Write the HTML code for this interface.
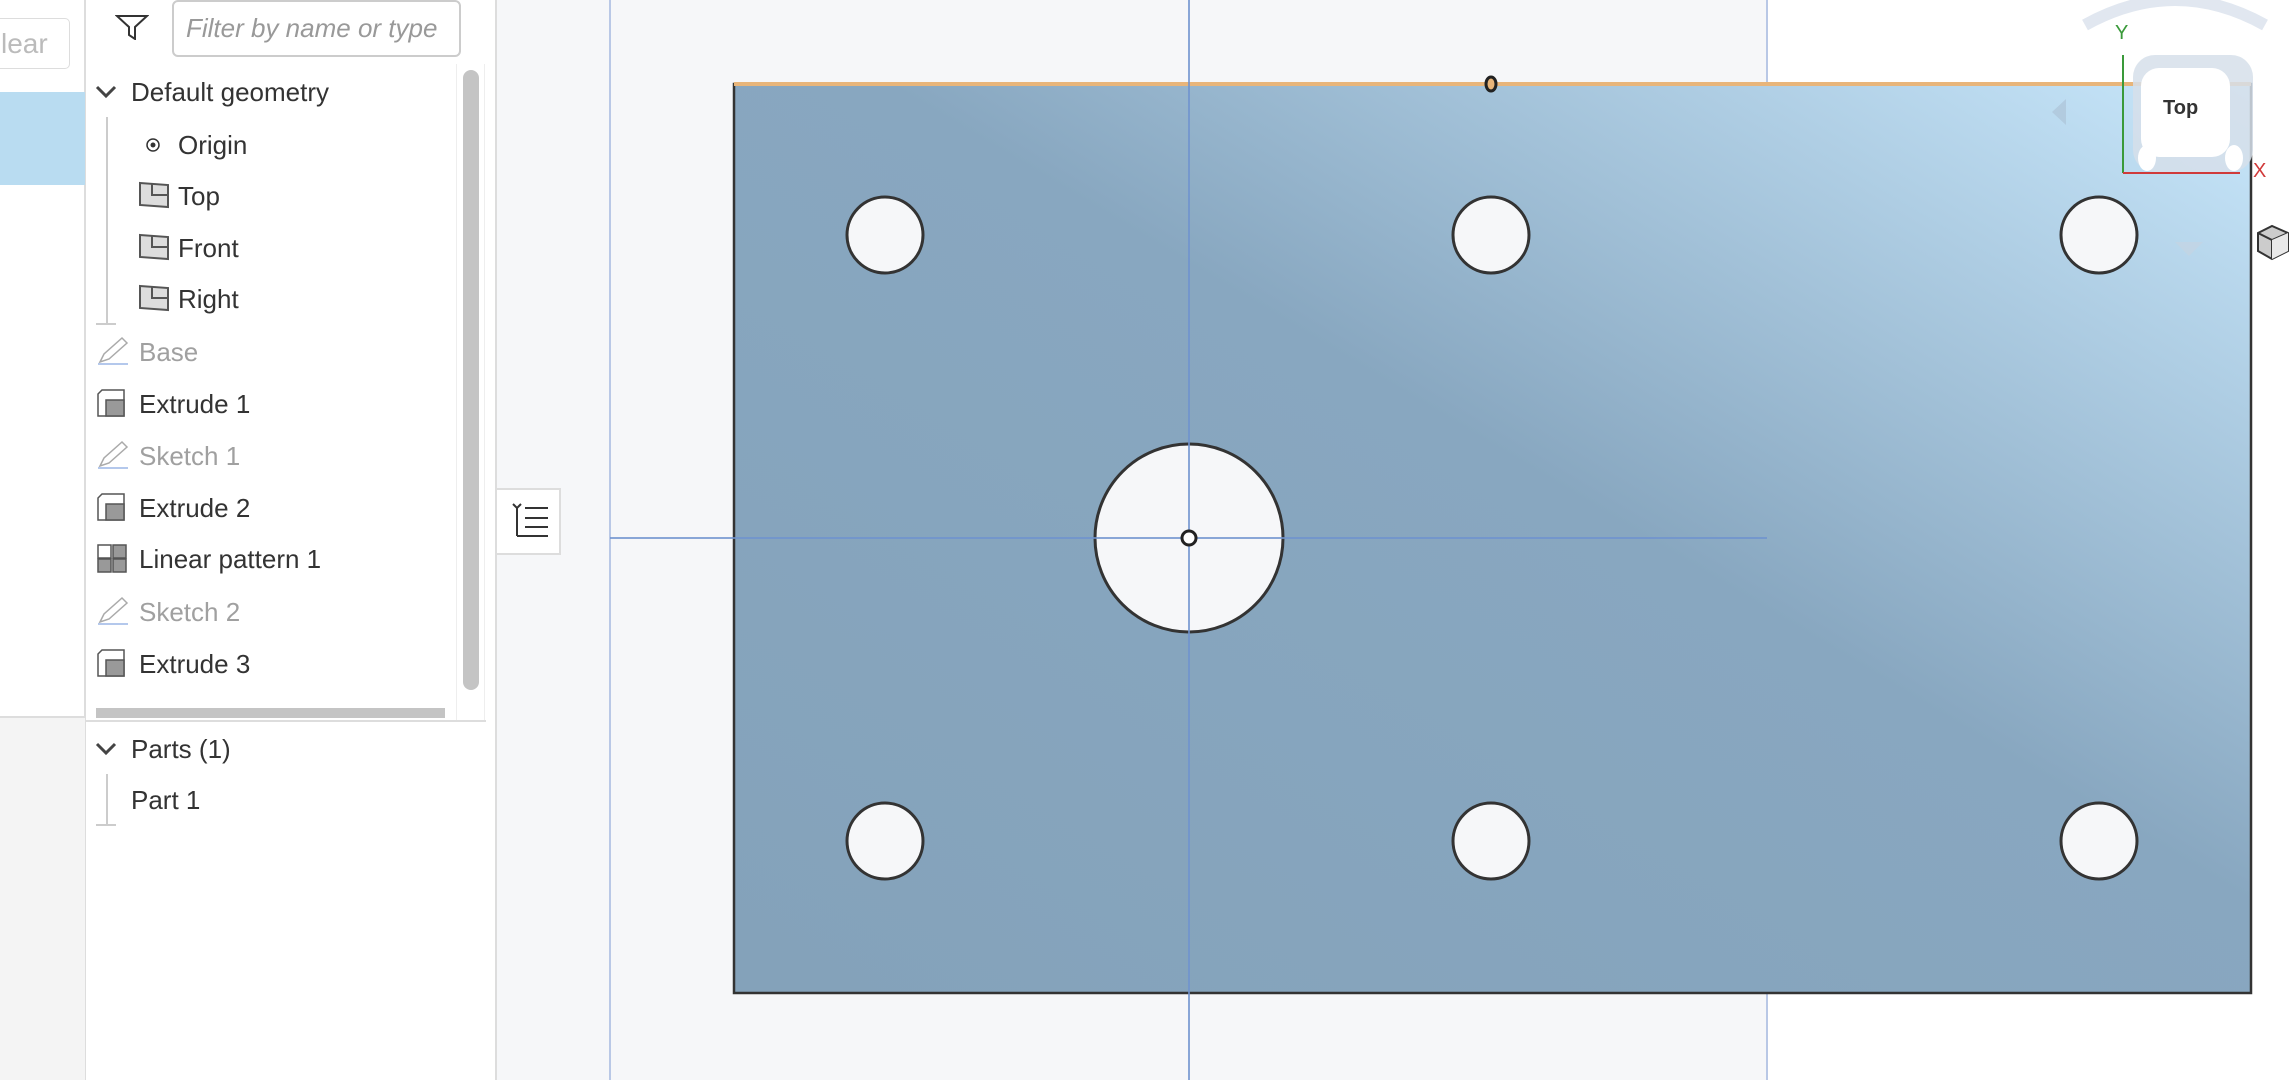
<!DOCTYPE html>
<html><head><meta charset="utf-8"><style>
*{margin:0;padding:0;box-sizing:border-box}
body{width:2290px;height:1080px;overflow:hidden;background:#f6f7f9;font-family:"Liberation Sans",sans-serif;position:relative}
.abs{position:absolute}
.item{position:absolute;font-size:26px;color:#333;white-space:nowrap;line-height:32px}
.dim{color:#a0a0a0}
.ic{position:absolute}
</style></head><body>
<div class="abs" style="left:0;top:0;width:86px;height:1080px;background:#fff;border-right:2px solid #ddd"></div>
<div class="abs" style="left:-12px;top:18px;width:82px;height:51px;border:1px solid #ddd;border-radius:5px;color:#bbb;font-size:28px;line-height:49px;padding-left:12px;background:#fff">lear</div>
<div class="abs" style="left:0;top:92px;width:85px;height:93px;background:#b9dcf1"></div>
<div class="abs" style="left:0;top:716px;width:85px;height:364px;background:#f4f4f4;border-top:2px solid #ddd"></div>

<div class="abs" style="left:86px;top:0;width:411px;height:1080px;background:#fff;border-right:2px solid #ddd"></div>
<svg class="abs" style="left:115px;top:14px" width="34" height="26" viewBox="0 0 34 26"><path d="M2 2 H32 L20 13 V25 L14 21 V13 Z" fill="none" stroke="#333" stroke-width="2"/></svg>
<div class="abs" style="left:172px;top:0;width:289px;height:57px;border:2px solid #ccc;border-radius:6px;font-style:italic;color:#999;font-size:26px;line-height:52px;padding-left:12px">Filter by name or type</div>
<div class="abs" style="left:456px;top:64px;width:29px;height:656px;border-left:1px solid #eee;border-right:1px solid #eee"></div>
<div class="abs" style="left:463px;top:70px;width:16px;height:620px;background:#c4c4c4;border-radius:8px"></div>
<div class="abs" style="left:96px;top:708px;width:349px;height:10px;background:#c4c4c4"></div>
<div class="abs" style="left:86px;top:720px;width:400px;height:2px;background:#ddd"></div>
<div class="abs" style="left:106px;top:117px;width:2px;height:207px;background:#ccc"></div>
<div class="abs" style="left:96px;top:323px;width:20px;height:2px;background:#ccc"></div>
<div class="abs" style="left:106px;top:774px;width:2px;height:51px;background:#ccc"></div>
<div class="abs" style="left:96px;top:824px;width:20px;height:2px;background:#ccc"></div>

<svg class="ic" style="left:94px;top:84px" width="24" height="16"><path d="M3 3 L12 12 L21 3" fill="none" stroke="#444" stroke-width="3"/></svg>
<div class="item" style="left:131px;top:76px">Default geometry</div>
<svg class="ic" style="left:145px;top:137px" width="16" height="16"><circle cx="8" cy="8" r="6" fill="none" stroke="#333" stroke-width="1.5"/><circle cx="8" cy="8" r="2.5" fill="#333"/></svg>
<div class="item" style="left:178px;top:129px">Origin</div>
<svg class="ic" style="left:138px;top:181px" width="32" height="28"><path d="M2 2 L30 4 V26 L2 24 Z" fill="#ddd" stroke="#555" stroke-width="2"/><path d="M14 2 V14 H30" fill="none" stroke="#555" stroke-width="2"/></svg>
<div class="item" style="left:178px;top:180px">Top</div>
<svg class="ic" style="left:138px;top:233px" width="32" height="28"><path d="M2 2 L30 4 V26 L2 24 Z" fill="#ddd" stroke="#555" stroke-width="2"/><path d="M14 2 V14 H30" fill="none" stroke="#555" stroke-width="2"/></svg>
<div class="item" style="left:178px;top:232px">Front</div>
<svg class="ic" style="left:138px;top:284px" width="32" height="28"><path d="M2 2 L30 4 V26 L2 24 Z" fill="#ddd" stroke="#555" stroke-width="2"/><path d="M14 2 V14 H30" fill="none" stroke="#555" stroke-width="2"/></svg>
<div class="item" style="left:178px;top:283px">Right</div>

<svg class="ic" style="left:96px;top:336px" width="34" height="30"><path d="M4 26 L8 18 L26 2 L31 7 L13 23 Z" fill="none" stroke="#aaa" stroke-width="1.5"/><path d="M2 28 H32" stroke="#9bb6e6" stroke-width="1.5"/></svg>
<div class="item dim" style="left:139px;top:336px">Base</div>
<svg class="ic" style="left:96px;top:388px" width="32" height="30"><path d="M2 6 L6 2 H28 V28 H2 Z" fill="#fff" stroke="#555" stroke-width="1.5"/><rect x="10" y="12" width="18" height="16" fill="#999" stroke="#555" stroke-width="1.5"/></svg>
<div class="item" style="left:139px;top:388px">Extrude 1</div>
<svg class="ic" style="left:96px;top:440px" width="34" height="30"><path d="M4 26 L8 18 L26 2 L31 7 L13 23 Z" fill="none" stroke="#aaa" stroke-width="1.5"/><path d="M2 28 H32" stroke="#9bb6e6" stroke-width="1.5"/></svg>
<div class="item dim" style="left:139px;top:440px">Sketch 1</div>
<svg class="ic" style="left:96px;top:492px" width="32" height="30"><path d="M2 6 L6 2 H28 V28 H2 Z" fill="#fff" stroke="#555" stroke-width="1.5"/><rect x="10" y="12" width="18" height="16" fill="#999" stroke="#555" stroke-width="1.5"/></svg>
<div class="item" style="left:139px;top:492px">Extrude 2</div>
<svg class="ic" style="left:96px;top:543px" width="32" height="30"><rect x="2" y="2" width="13" height="13" fill="#fff" stroke="#555" stroke-width="1.5"/><rect x="17" y="2" width="13" height="13" fill="#999" stroke="#555" stroke-width="1.5"/><rect x="2" y="16" width="13" height="13" fill="#999" stroke="#555" stroke-width="1.5"/><rect x="17" y="16" width="13" height="13" fill="#999" stroke="#555" stroke-width="1.5"/></svg>
<div class="item" style="left:139px;top:543px">Linear pattern 1</div>
<svg class="ic" style="left:96px;top:596px" width="34" height="30"><path d="M4 26 L8 18 L26 2 L31 7 L13 23 Z" fill="none" stroke="#aaa" stroke-width="1.5"/><path d="M2 28 H32" stroke="#9bb6e6" stroke-width="1.5"/></svg>
<div class="item dim" style="left:139px;top:596px">Sketch 2</div>
<svg class="ic" style="left:96px;top:648px" width="32" height="30"><path d="M2 6 L6 2 H28 V28 H2 Z" fill="#fff" stroke="#555" stroke-width="1.5"/><rect x="10" y="12" width="18" height="16" fill="#999" stroke="#555" stroke-width="1.5"/></svg>
<div class="item" style="left:139px;top:648px">Extrude 3</div>
<svg class="ic" style="left:94px;top:741px" width="24" height="16"><path d="M3 3 L12 12 L21 3" fill="none" stroke="#444" stroke-width="3"/></svg>
<div class="item" style="left:131px;top:733px">Parts (1)</div>
<div class="item" style="left:131px;top:784px">Part 1</div>

<div class="abs" style="left:497px;top:488px;width:64px;height:67px;background:#fff;border:2px solid #ddd;border-left:none"></div>
<svg class="abs" style="left:510px;top:500px" width="40" height="40"><path d="M3 4 L7 8 L11 4 M7 8 V36 M15 8 H38 M15 18 H38 M15 27 H38 M7 36 H38" fill="none" stroke="#333" stroke-width="2"/></svg>

<svg class="abs" id="view" style="left:499px;top:0" width="1791" height="1080"></svg>
<script>
const holeX=[885,1491,2099];
const holeY=[235,841];
const smallR=38;
const bigHole={x:1189,y:538,r:94};
const plate={x0:734,y0:84,x1:2251,y1:993};
const ox=499;
const NS="http://www.w3.org/2000/svg";
const v=document.getElementById('view');
function mk(t,a,name){const e=document.createElementNS(NS,t);for(const k in a)e.setAttribute(k,a[k]);


v.appendChild(e);return e;}
v.innerHTML='<defs><linearGradient id="g" x1="0" y1="1" x2="1" y2="0"><stop offset="0" stop-color="#84a2ba"/><stop offset="0.55" stop-color="#88a7c0"/><stop offset="1" stop-color="#c8e7fb"/></linearGradient></defs>';
mk('rect',{x:1767-ox,y:0,width:2290-1767,height:1080,fill:'#fff'},'white-area');
mk('line',{x1:610-ox,y1:0,x2:610-ox,y2:1080,stroke:'#b9c8e6','stroke-width':2},'sketch-boundary-left');
mk('line',{x1:1767-ox,y1:0,x2:1767-ox,y2:1080,stroke:'#b9c8e6','stroke-width':2},'sketch-boundary-right');
mk('rect',{x:plate.x0-ox,y:plate.y0,width:plate.x1-plate.x0,height:plate.y1-plate.y0,fill:'url(#g)',stroke:'#333','stroke-width':2.5},'plate');
mk('line',{x1:plate.x0-ox,y1:plate.y0,x2:plate.x1-ox,y2:plate.y0,stroke:'#e8b57a','stroke-width':4},'top-edge-highlight');
holeY.forEach((y,j)=>holeX.forEach((x,i)=>{mk('circle',{cx:x-ox,cy:y,r:smallR,fill:'#f6f7f9',stroke:'#333','stroke-width':3},'small-hole');}));
mk('circle',{cx:bigHole.x-ox,cy:bigHole.y,r:bigHole.r,fill:'#f6f7f9',stroke:'#333','stroke-width':3},'center-hole');
mk('line',{x1:bigHole.x-ox,y1:0,x2:bigHole.x-ox,y2:1080,stroke:'#6f93cf','stroke-width':2,opacity:0.8},'vertical-axis-line');
mk('line',{x1:610-ox,y1:bigHole.y,x2:1767-ox,y2:bigHole.y,stroke:'#6f93cf','stroke-width':2,opacity:0.8},'horizontal-axis-line');
mk('circle',{cx:bigHole.x-ox,cy:bigHole.y,r:7,fill:'#fff',stroke:'#222','stroke-width':3},'origin-point');
mk('ellipse',{cx:1491-ox,cy:plate.y0,rx:5,ry:7,fill:'#e8b57a',stroke:'#222','stroke-width':3},'midpoint-marker');
mk('path',{d:'M'+(2085-ox)+' 25 Q'+(2175-ox)+' -25 '+(2265-ox)+' 25',fill:'none',stroke:'#e1e7f0','stroke-width':12},'rotate-arrow');
mk('rect',{x:2133-ox,y:55,width:120,height:117,rx:22,fill:'#d6dfea',opacity:0.85},'view-cube-frame');
mk('rect',{x:2141-ox,y:68,width:89,height:89,rx:18,fill:'#fff'},'view-cube-face');
mk('ellipse',{cx:2147-ox,cy:158,rx:9,ry:13,fill:'#fff'},'cube-corner-left');
mk('ellipse',{cx:2234-ox,cy:158,rx:9,ry:13,fill:'#fff'},'cube-corner-right');
mk('path',{d:'M'+(2052-ox)+' 112 l14 -13 v26 z',fill:'#aabfd4',opacity:0.6},'cube-arrow-left');
mk('path',{d:'M'+(2175-ox)+' 242 h28 l-14 14 z',fill:'#c3d4e3',opacity:0.8},'cube-arrow-down');
mk('line',{x1:2123-ox,y1:55,x2:2123-ox,y2:173,stroke:'#3a9a3a','stroke-width':2},'y-axis');
mk('line',{x1:2123-ox,y1:173,x2:2240-ox,y2:173,stroke:'#d03a3a','stroke-width':2},'x-axis');
</script>
<div class="abs" style="left:2163px;top:97px;font-size:20px;font-weight:bold;color:#333">Top</div>
<div class="abs" style="left:2115px;top:22px;font-size:20px;color:#3a9a3a">Y</div>
<div class="abs" style="left:2253px;top:160px;font-size:20px;color:#d03a3a">X</div>
<svg class="abs" style="left:2255px;top:224px" width="35" height="38"><path d="M3 9 L17 2 L33 9 V27 L17 35 L3 27 Z" fill="#ccc" stroke="#333" stroke-width="2"/><path d="M3 9 L17 16 L33 9 M17 16 V35" fill="none" stroke="#333" stroke-width="2"/><path d="M17 16 L33 9 V27 L17 35 Z" fill="#e8e8e8"/></svg>
</body></html>
